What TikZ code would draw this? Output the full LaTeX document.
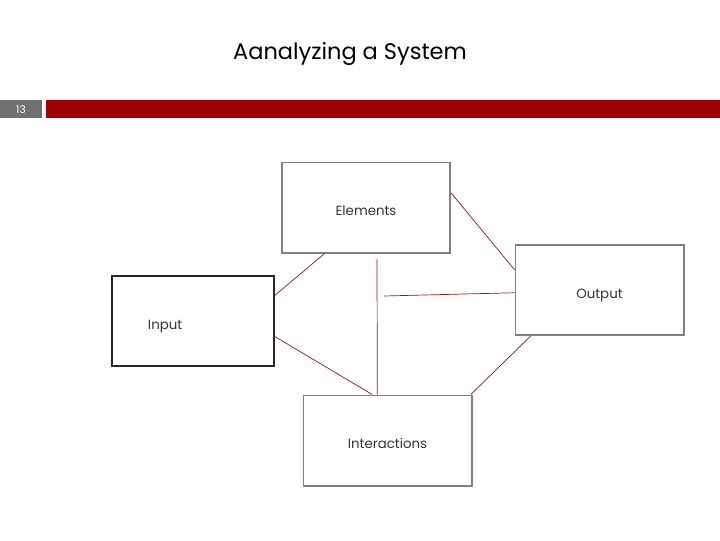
\documentclass[tikz,border=0pt]{standalone}
\usepackage{fontspec}
\setmainfont{Poppins}
\usetikzlibrary{calc}
\definecolor{barred}{RGB}{160,0,0}
\definecolor{bargray}{RGB}{112,112,112}
\definecolor{linkred}{RGB}{150,20,20}
\definecolor{boxgray}{RGB}{128,128,128}
\tikzset{
    sysbox/.style={draw=boxgray, line width=1.4pt, fill=white, minimum width=4.2cm, minimum height=2.25cm, text height=1.15em, text depth=0pt, font=\fontsize{9.5}{11}\selectfont, text=black!80},
    link/.style={draw=linkred, line width=0.5pt},
}

\begin{document}
\begin{tikzpicture}[x=0.025cm, y=-0.025cm]
    \useasboundingbox (0,0) rectangle (720,540);
    % title and header bar
    \node[font=\fontsize{16}{19}\selectfont] (title) at (350,54) {Aanalyzing a System};
    \fill[bargray] (0,100) rectangle (42,118);
    \node[text=white, font=\fontsize{7.5}{8}\selectfont] (pagenum) at (21,109.5) {13};
    \fill[barred] (46,100) rectangle (720,118);
    % the four boxes
    \node[sysbox] (elem) at (366,207.5) {Elements};
    \node[sysbox, draw=black!85, minimum width=4.05cm, text width=2.25cm, inner xsep=0.9cm, align=left] (input) at (193,321) {Input};
    \node[sysbox] (output) at (599.5,290) {Output};
    \node[sysbox] (inter) at (387.5,440.5) {Interactions};
    % free ends
    \coordinate (vtop) at (377,259);
    \coordinate (hleft) at (384,296);
    % connectors
    \draw[link] ($(elem.south west)!0.256!(elem.south east)$) -- ($(input.north east)!0.22!(input.south east)$);
    \draw[link] ($(elem.north east)!0.34!(elem.south east)$) -- ($(output.north west)!0.28!(output.south west)$);
    \draw[link] (vtop) -- ($(inter.north west)!0.44!(inter.north east)$);
    \draw[link] (hleft) -- ($(output.north west)!0.53!(output.south west)$);
    \draw[link] ($(input.north east)!0.67!(input.south east)$) -- ($(inter.north west)!0.41!(inter.north east)$);
    \draw[link] ($(output.south west)!0.095!(output.south east)$) -- ($(inter.north west)!0.99!(inter.north east)$);
\end{tikzpicture}
\end{document}
